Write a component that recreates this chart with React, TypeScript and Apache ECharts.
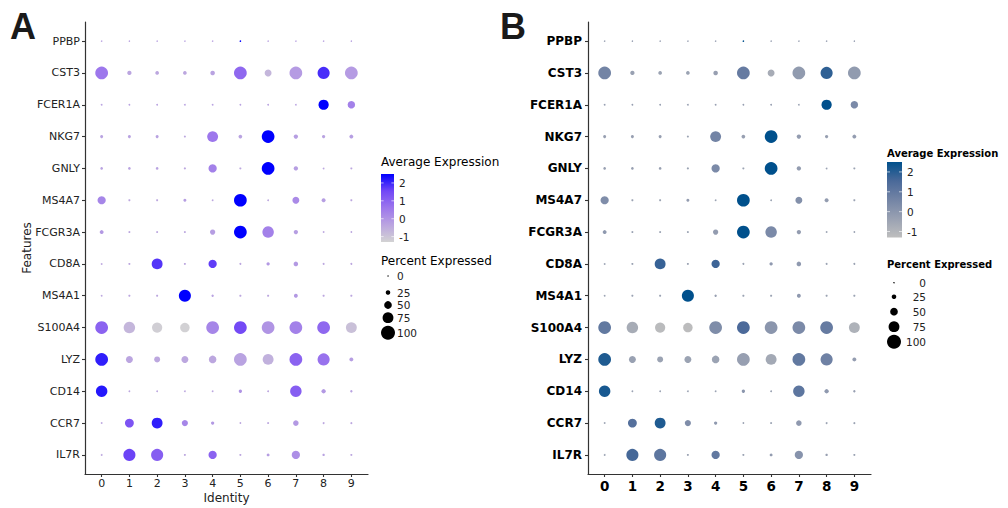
import React, { useEffect, useRef } from "react";
import * as echarts from "echarts";

const genes = ["PPBP", "CST3", "FCER1A", "NKG7", "GNLY", "MS4A7", "FCGR3A", "CD8A", "MS4A1", "S100A4", "LYZ", "CD14", "CCR7", "IL7R"];
const clusters = ["0", "1", "2", "3", "4", "5", "6", "7", "8", "9"];

// percent expressed, per gene (rows) by cluster (columns)
const pctPPBP = [1, 1, 1, 1, 1, 2, 1, 1, 1, 1];
const pctCST3 = [90, 23, 18, 18, 25, 90, 44, 90, 85, 90];
const pctFCER1A = [3, 3, 3, 3, 3, 3, 3, 2, 70, 48];
const pctNKG7 = [13, 13, 13, 5, 75, 18, 90, 23, 15, 20];
const pctGNLY = [10, 10, 10, 6, 54, 5, 90, 23, 3, 5];
const pctMS4A7 = [54, 5, 5, 13, 3, 90, 3, 44, 20, 5];
const pctFCGR3A = [20, 5, 5, 5, 31, 90, 80, 23, 3, 3];
const pctCD8A = [3, 5, 75, 5, 54, 4, 15, 25, 4, 4];
const pctMS4A1 = [3, 5, 5, 85, 8, 6, 6, 20, 5, 5];
const pctS100A4 = [90, 80, 70, 64, 90, 90, 90, 90, 90, 75];
const pctLYZ = [90, 44, 36, 44, 49, 90, 75, 90, 85, 20];
const pctCD14 = [80, 3, 3, 3, 3, 15, 4, 80, 23, 8];
const pctCCR7 = [3, 59, 75, 38, 15, 3, 5, 33, 4, 6];
const pctIL7R = [3, 85, 85, 5, 54, 5, 12, 54, 8, 5];

// average (scaled) expression
const avgPPBP = [-0.3, -0.3, -0.3, -0.3, -0.3, 2.5, -0.3, -0.3, -0.3, -0.3];
const avgCST3 = [0.6, -0.35, -0.4, -0.4, -0.3, 0.9, -0.7, -0.15, 1.9, -0.15];
const avgFCER1A = [-0.3, -0.3, -0.3, -0.3, -0.3, -0.3, -0.3, -0.3, 2.5, 0.4];
const avgNKG7 = [-0.3, -0.3, -0.3, -0.4, 0.6, -0.3, 2.5, -0.2, -0.3, -0.2];
const avgGNLY = [-0.3, -0.3, -0.3, -0.4, 0.4, -0.4, 2.5, -0.2, -0.4, -0.4];
const avgMS4A7 = [0.3, -0.4, -0.4, -0.2, -0.4, 2.5, -0.4, 0.2, -0.2, -0.4];
const avgFCGR3A = [-0.1, -0.4, -0.4, -0.4, -0.2, 2.5, 0.4, -0.2, -0.4, -0.4];
const avgCD8A = [-0.4, -0.4, 1.8, -0.4, 1.7, -0.4, -0.1, -0.1, -0.4, -0.4];
const avgMS4A1 = [-0.4, -0.4, -0.4, 2.5, -0.3, -0.4, -0.4, -0.1, -0.4, -0.4];
const avgS100A4 = [1.0, -0.7, -1.2, -1.25, 0.3, 1.5, 0.0, 0.4, 0.9, -0.9];
const avgLYZ = [2.1, -0.35, -0.4, -0.4, -0.4, -0.3, -0.6, 1.0, 0.7, -0.2];
const avgCD14 = [2.2, -0.4, -0.4, -0.4, -0.4, 0.0, -0.4, 1.1, -0.1, -0.3];
const avgCCR7 = [-0.4, 1.3, 2.1, 0.3, -0.1, -0.4, -0.4, -0.1, -0.4, -0.4];
const avgIL7R = [-0.4, 1.6, 1.1, -0.4, 1.0, -0.4, -0.2, 0.1, -0.3, -0.4];

const pctRows = [pctPPBP, pctCST3, pctFCER1A, pctNKG7, pctGNLY, pctMS4A7, pctFCGR3A, pctCD8A, pctMS4A1, pctS100A4, pctLYZ, pctCD14, pctCCR7, pctIL7R];
const avgRows = [avgPPBP, avgCST3, avgFCER1A, avgNKG7, avgGNLY, avgMS4A7, avgFCGR3A, avgCD8A, avgMS4A1, avgS100A4, avgLYZ, avgCD14, avgCCR7, avgIL7R];

const colorTicks = [2, 1, 0, -1];
const sizeTicks = [0, 25, 50, 75, 100];
const exprMin = -1.3;
const exprMax = 2.5;

const colorsA = ["#D3D3D3", "#BBA5E0", "#9D77EC", "#7248F6", "#0000FF"];
const colorsB = ["#BEBEBE", "#99A1B2", "#7384A5", "#4A6999", "#00508C"];

const FONT = "DejaVu Sans";
const sizeOf = (p: number) => 1.4 + (12.6 * p) / 100;

function buildData() {
  const out: number[][] = [];
  genes.forEach((_, gi) => {
    clusters.forEach((__, ci) => {
      out.push([ci, gi, pctRows[gi][ci], avgRows[gi][ci]]);
    });
  });
  return out;
}

function axes(gi: number, bold: boolean) {
  const axisLine = { show: true, onZero: false, lineStyle: { color: "#333", width: 1.2 } };
  const tick = { show: true, length: 3, lineStyle: { color: "#333", width: 1.1 } };
  const idxX = clusters.map((_, i) => i);
  const idxY = genes.map((_, i) => i);
  return {
    x: {
      type: "value",
      gridIndex: gi,
      min: -0.6,
      max: 9.6,
      splitLine: { show: false },
      axisLine,
      axisTick: { ...tick, customValues: idxX },
      axisLabel: {
        customValues: idxX,
        formatter: (v: number) => clusters[Math.round(v)],
        margin: bold ? 5 : 4,
        fontSize: bold ? 13.5 : 11,
        fontWeight: bold ? "bold" : "normal",
        fontFamily: FONT,
        color: bold ? "#000" : "#222",
      },
    },
    y: {
      type: "value",
      gridIndex: gi,
      inverse: true,
      min: -0.6,
      max: 13.6,
      splitLine: { show: false },
      axisLine,
      axisTick: { ...tick, customValues: idxY },
      axisLabel: {
        customValues: idxY,
        formatter: (v: number) => genes[Math.round(v)],
        margin: bold ? 6 : 5,
        fontSize: bold ? 12 : 11,
        fontWeight: bold ? "bold" : "normal",
        fontFamily: FONT,
        color: bold ? "#000" : "#222",
      },
    },
  };
}

function legend(opts: {
  colors: string[];
  titleX: number;
  titleY1: number;
  barX: number;
  barY: number;
  barW: number;
  barH: number;
  labelX: number;
  titleY2: number;
  circleX: number;
  circleYs: number[];
  sizeLabelX: number;
  sizeAlign: string;
  bold: boolean;
  titleSize: number;
}) {
  const els: any[] = [];
  const titleStyle = {
    fontFamily: FONT,
    fontSize: opts.titleSize,
    fontWeight: opts.bold ? "bold" : "normal",
    fill: "#000",
    align: "left",
    verticalAlign: "middle",
  };
  els.push({ type: "text", x: opts.titleX, y: opts.titleY1, style: { ...titleStyle, text: "Average Expression" } });
  const stops = opts.colors
    .slice()
    .reverse()
    .map((c, i, arr) => ({ offset: i / (arr.length - 1), color: c }));
  els.push({
    type: "rect",
    shape: { x: opts.barX, y: opts.barY, width: opts.barW, height: opts.barH },
    style: { fill: { type: "linear", x: 0, y: 0, x2: 0, y2: 1, colorStops: stops } },
  });
  colorTicks.forEach((v) => {
    const y = opts.barY + ((exprMax - v) / (exprMax - exprMin)) * opts.barH;
    const tl = opts.barW * 0.2;
    els.push({ type: "line", shape: { x1: opts.barX, y1: y, x2: opts.barX + tl, y2: y }, style: { stroke: "rgba(255,255,255,0.8)", lineWidth: 0.8 } });
    els.push({ type: "line", shape: { x1: opts.barX + opts.barW - tl, y1: y, x2: opts.barX + opts.barW, y2: y }, style: { stroke: "rgba(255,255,255,0.8)", lineWidth: 0.8 } });
    els.push({
      type: "text",
      x: opts.labelX,
      y,
      style: { text: String(v), fontFamily: FONT, fontSize: 10.5, fill: "#222", align: "left", verticalAlign: "middle" },
    });
  });
  els.push({ type: "text", x: opts.titleX, y: opts.titleY2, style: { ...titleStyle, text: "Percent Expressed" } });
  sizeTicks.forEach((p, i) => {
    const cy = opts.circleYs[i];
    els.push({ type: "circle", shape: { cx: opts.circleX, cy, r: sizeOf(p) / 2 }, style: { fill: "#000" } });
    els.push({
      type: "text",
      x: opts.sizeLabelX,
      y: cy,
      style: { text: String(p), fontFamily: FONT, fontSize: 10.5, fill: "#222", align: opts.sizeAlign, verticalAlign: "middle" },
    });
  });
  return els;
}

export default function App() {
  const ref = useRef<HTMLDivElement>(null);
  useEffect(() => {
    if (!ref.current) return;
    const chart = echarts.init(ref.current, undefined, { renderer: "svg" });
    const data = buildData();
    const aA = axes(0, false);
    const aB = axes(1, true);
    const option: any = {
      animation: false,
      backgroundColor: "#fff",
      grid: [
        { left: 85, top: 22, width: 283, height: 452 },
        { left: 588, top: 22, width: 283, height: 452 },
      ],
      xAxis: [aA.x, aB.x],
      yAxis: [aA.y, aB.y],
      visualMap: [
        { type: "continuous", show: false, seriesIndex: 0, dimension: 3, min: exprMin, max: exprMax, inRange: { color: colorsA } },
        { type: "continuous", show: false, seriesIndex: 1, dimension: 3, min: exprMin, max: exprMax, inRange: { color: colorsB } },
      ],
      series: [
        {
          type: "scatter",
          xAxisIndex: 0,
          yAxisIndex: 0,
          data,
          symbol: "circle",
          symbolSize: (v: number[]) => sizeOf(v[2]),
          itemStyle: { opacity: 1 },
        },
        {
          type: "scatter",
          xAxisIndex: 1,
          yAxisIndex: 1,
          data,
          symbol: "circle",
          symbolSize: (v: number[]) => sizeOf(v[2]),
          itemStyle: { opacity: 1 },
        },
      ],
      graphic: [
        { type: "text", x: 10, y: 26, style: { text: "A", fontFamily: "Liberation Sans", fontWeight: "bold", fontSize: 36, fill: "#1a1a1a", align: "left", verticalAlign: "middle" } },
        { type: "text", x: 500, y: 26, style: { text: "B", fontFamily: "Liberation Sans", fontWeight: "bold", fontSize: 36, fill: "#1a1a1a", align: "left", verticalAlign: "middle" } },
        { type: "text", x: 226.5, y: 498, style: { text: "Identity", fontFamily: FONT, fontSize: 12, fill: "#222", align: "center", verticalAlign: "middle" } },
        { type: "text", x: 27, y: 248, rotation: Math.PI / 2, style: { text: "Features", fontFamily: FONT, fontSize: 12, fill: "#222", align: "center", verticalAlign: "middle" } },
        ...legend({
          colors: colorsA,
          titleX: 381,
          titleY1: 162,
          barX: 381,
          barY: 174,
          barW: 13,
          barH: 68,
          labelX: 399,
          titleY2: 261,
          circleX: 388,
          circleYs: [276, 292.5, 305, 317.7, 332.7],
          sizeLabelX: 397,
          sizeAlign: "left",
          bold: false,
          titleSize: 12,
        }),
        ...legend({
          colors: colorsB,
          titleX: 887,
          titleY1: 153,
          barX: 887,
          barY: 162,
          barW: 15,
          barH: 75.5,
          labelX: 907,
          titleY2: 264,
          circleX: 894,
          circleYs: [282.7, 296.7, 311.7, 326.7, 341.7],
          sizeLabelX: 926,
          sizeAlign: "right",
          bold: true,
          titleSize: 10,
        }),
      ],
    };
    chart.setOption(option);
    return () => chart.dispose();
  }, []);
  return <div ref={ref} style={{ position: "fixed", left: 0, top: 0, width: 1008, height: 508, background: "#fff" }} />;
}
